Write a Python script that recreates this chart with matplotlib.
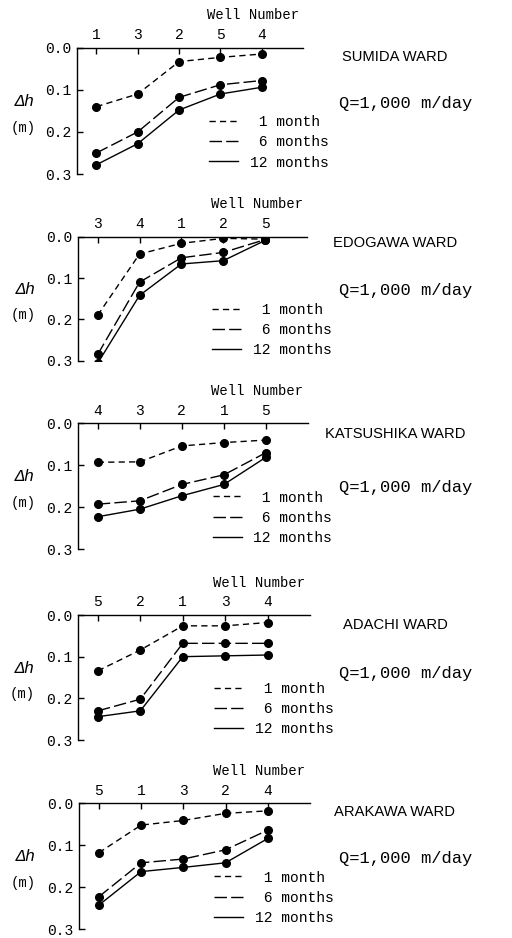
import matplotlib
matplotlib.use("Agg")
import matplotlib.pyplot as plt
from matplotlib.lines import Line2D

plt.rcParams['lines.scale_dashes'] = False

# ---------------- data ----------------
wards = ["SUMIDA WARD", "EDOGAWA WARD", "KATSUSHIKA WARD", "ADACHI WARD", "ARAKAWA WARD"]
flow_label = "Q=1,000 m/day"

wells_sumida = ["1", "3", "2", "5", "4"]
sumida_1m = [0.140, 0.110, 0.033, 0.023, 0.015]
sumida_6m = [0.250, 0.200, 0.118, 0.088, 0.078]
sumida_12m = [0.278, 0.228, 0.148, 0.110, 0.094]

wells_edogawa = ["3", "4", "1", "2", "5"]
edogawa_1m = [0.190, 0.042, 0.016, 0.004, 0.006]
edogawa_6m = [0.285, 0.110, 0.051, 0.038, 0.007]
edogawa_12m = [0.306, 0.142, 0.066, 0.058, 0.009]

wells_katsushika = ["4", "3", "2", "1", "5"]
katsushika_1m = [0.093, 0.092, 0.054, 0.046, 0.040]
katsushika_6m = [0.193, 0.185, 0.146, 0.123, 0.070]
katsushika_12m = [0.223, 0.205, 0.173, 0.146, 0.081]

wells_adachi = ["5", "2", "1", "3", "4"]
adachi_1m = [0.134, 0.084, 0.026, 0.026, 0.018]
adachi_6m = [0.230, 0.202, 0.068, 0.068, 0.068]
adachi_12m = [0.244, 0.230, 0.100, 0.098, 0.096]

wells_arakawa = ["5", "1", "3", "2", "4"]
arakawa_1m = [0.118, 0.052, 0.041, 0.024, 0.018]
arakawa_6m = [0.223, 0.142, 0.133, 0.111, 0.064]
arakawa_12m = [0.243, 0.163, 0.153, 0.142, 0.084]

series_labels = ["1 month", "6 months", "12 months"]
yticks = [0.0, 0.1, 0.2, 0.3]

panels = [
    (wells_sumida, [sumida_1m, sumida_6m, sumida_12m]),
    (wells_edogawa, [edogawa_1m, edogawa_6m, edogawa_12m]),
    (wells_katsushika, [katsushika_1m, katsushika_6m, katsushika_12m]),
    (wells_adachi, [adachi_1m, adachi_6m, adachi_12m]),
    (wells_arakawa, [arakawa_1m, arakawa_6m, arakawa_12m]),
]

# ---------------- layout (pixels) ----------------
W, H = 512, 938
# (left spine x, right end x, top axis y, 0.3 level y)
boxes = [
    (77, 303, 47.7, 174.0),
    (78, 307, 236.7, 360.7),
    (78, 308, 423.3, 549.0),
    (78, 310, 615.0, 740.0),
    (79, 310, 803.3, 929.0),
]
ward_y = [57, 243, 434, 625, 812]
q_y = [103, 290, 487, 673, 858]

mono = ['Liberation Mono', 'DejaVu Sans Mono']
sans = ['Liberation Sans', 'DejaVu Sans']

styles = [
    dict(linestyle=(0, (4.5, 3.0)), lw=1.0),
    dict(linestyle=(0, (9.0, 3.0)), lw=1.0),
    dict(linestyle='-', lw=1.0),
]


def legend_text(lab):
    num, unit = lab.split(' ', 1)
    return f"{num:>2} {unit}"


fig = plt.figure(figsize=(W / 100, H / 100), dpi=100)

for i, ((wells, vals), (xl, xr, yt, yb)) in enumerate(zip(panels, boxes)):
    ax = fig.add_axes([xl / W, 1 - yb / H, (xr - xl) / W, (yb - yt) / H])
    x = list(range(len(wells)))
    handles = []
    for v, st, lab in zip(vals, styles, series_labels):
        ax.plot(x, v, color='black', linestyle=st['linestyle'], lw=st['lw'],
                solid_capstyle='butt', dash_capstyle='butt')
        ax.plot(x, v, linestyle='none', marker='o', ms=5.5, color='black')
        handles.append(Line2D([], [], color='black', linestyle=st['linestyle'], lw=st['lw']))
    ax.set_xlim(-0.47, 5.0)
    ax.set_ylim(0.3, 0.0)
    for s in ['right', 'bottom']:
        ax.spines[s].set_visible(False)
    for s in ['left', 'top']:
        ax.spines[s].set_linewidth(1.0)
    ax.xaxis.set_ticks_position('top')
    ax.xaxis.set_label_position('top')
    ax.set_xticks(x)
    ax.set_xticklabels(wells, fontfamily=mono, fontsize=10.5)
    ax.set_yticks(yticks)
    ax.set_yticklabels([f"{t:.1f}" for t in yticks], fontfamily=mono, fontsize=10.5)
    ax.tick_params(axis='x', direction='in', length=4, width=1.0, pad=4)
    ax.tick_params(axis='y', direction='in', length=4, width=1.0, pad=4)
    ax.patch.set_alpha(0)
    ax.text(0.78, 1.26, "Well Number", transform=ax.transAxes, ha='center', va='center',
            fontfamily=mono, fontsize=10)
    ax.text(-0.23, 0.575, "Δh", transform=ax.transAxes, ha='center', va='center',
            fontfamily=mono, fontsize=12, fontstyle='italic')
    ax.text(-0.24, 0.365, "(m)", transform=ax.transAxes, ha='center', va='center',
            fontfamily=mono, fontsize=10)
    ax.legend(handles, [legend_text(l) for l in series_labels], loc='upper left',
              bbox_to_anchor=(0.585, 0.465), frameon=False,
              prop={'family': mono, 'size': 10.5}, handlelength=2.0,
              handletextpad=0.8, labelspacing=0.42, borderpad=0, borderaxespad=0)
    fig.text(395 / W, 1 - ward_y[i] / H, wards[i], ha='center', va='center',
             fontfamily=sans, fontsize=10.6)
    fig.text(339 / W, 1 - q_y[i] / H, flow_label, ha='left', va='center',
             fontfamily=mono, fontsize=12.3)

fig.savefig("out.png", dpi=100)
